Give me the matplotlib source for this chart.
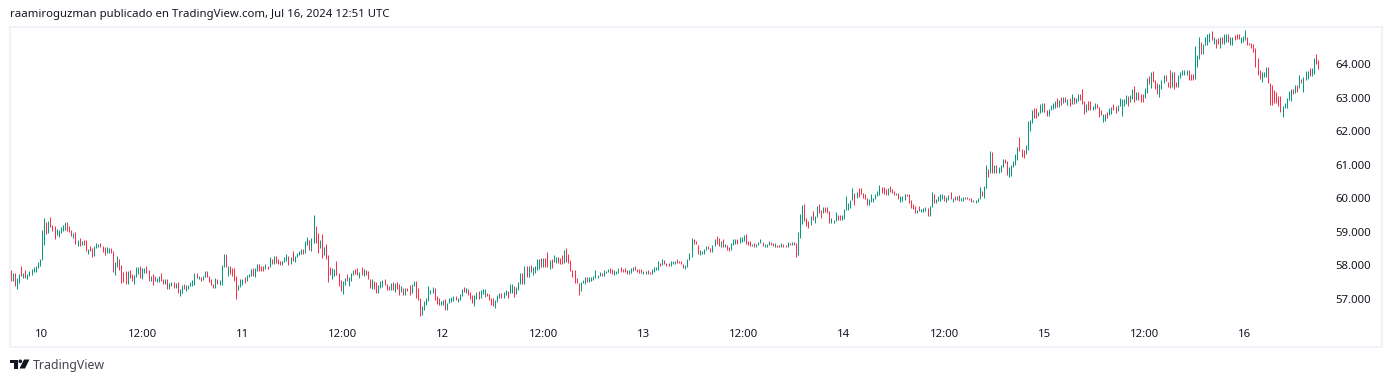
import matplotlib
matplotlib.use("Agg")
import matplotlib.pyplot as plt
from matplotlib.patches import Polygon, Circle

plt.rcParams["font.family"] = ["Noto Sans", "DejaVu Sans"]

# 15 minute bars, first bar is Jul 9 20:15
bar_hours = 0.25
first_hour = -3.75

highs_a = [57.87,57.77,57.77,57.62,57.75,57.99,57.77,57.87,57.75,57.84,
           57.90,57.96,57.98,58.10,58.18,59.04,59.42,59.30,59.33,59.45,
           59.21,59.18,59.09,59.06,59.15,59.21,59.30,59.30,59.18,59.06,
           58.97,59.00,58.76,58.83,58.74,58.76,58.76,58.49,58.58,58.52,
           58.58,58.67,58.63,58.67,58.58,58.55,58.55,58.52,58.52,58.43,
           58.10,58.28,58.19,58.01,57.81,57.84,57.84,57.87,57.75,57.72,
           57.96,57.96,57.99,57.93,57.93,57.99,57.87,57.69,57.75,57.69,
           57.63,57.69,57.78,57.60,57.60,57.60,57.48,57.51,57.51,57.48,
           57.51,57.30,57.42,57.45,57.42,57.42,57.51,57.57,57.78,57.78,
           57.69,57.66,57.69,57.84,57.84,57.69,57.60,57.45,57.63,57.60,
           57.57,58.01,58.34,58.34,57.99,57.99,57.93,57.93,57.69,57.42,
           57.60,57.60,57.66,57.72,57.75,57.90,57.93,57.93,58.05,58.05,
           57.99,57.99,58.05,57.99,58.25,58.19,58.28,58.28,58.19,58.13,
           58.13,58.25,58.34,58.28,58.25,58.43,58.28,58.37,58.43]
lows_a = [57.55,57.55,57.39,57.30,57.49,57.67,57.63,57.63,57.61,57.67,
          57.71,57.81,57.81,57.91,57.99,58.16,58.61,58.94,58.96,59.14,
          59.03,58.79,58.91,58.85,58.97,59.01,59.06,59.03,59.00,58.88,
          58.82,58.64,58.58,58.58,58.60,58.61,58.43,58.34,58.43,58.25,
          58.28,58.52,58.54,58.55,58.39,58.31,58.38,58.37,58.37,57.81,
          57.72,57.96,57.87,57.48,57.51,57.45,57.45,57.63,57.54,57.45,
          57.66,57.75,57.63,57.60,57.78,57.78,57.54,57.54,57.42,57.54,
          57.51,57.51,57.54,57.45,57.45,57.30,57.30,57.39,57.33,57.33,
          57.18,57.09,57.18,57.30,57.24,57.30,57.39,57.39,57.42,57.63,
          57.60,57.54,57.57,57.66,57.66,57.51,57.42,57.33,57.33,57.45,
          57.42,57.42,57.96,57.96,57.69,57.75,57.69,57.54,57.00,57.27,
          57.36,57.42,57.48,57.54,57.66,57.69,57.69,57.66,57.84,57.84,
          57.84,57.84,57.90,57.90,57.96,58.05,58.05,58.07,58.05,58.01,
          58.01,58.10,58.13,58.01,58.05,58.13,58.10,58.25,58.31]
dirs_a = ("DUDUUDUDUU" "UUUUUUUDUD" "DDUUUUUDDD" "UDUDUDDUDD" "UUUDDDUUDD"
          "UUDDDDUDDU" "UUDUUDDUDD" "UUDDUDUUDU" "DUUDUUUUUD" "UDUUDDDDUD"
          "UUUDUDDDDU" "UUDUUUDUUD" "DDUDUDUDDD" "UUUDUDUUU")

highs_b = [58.49,58.49,58.73,58.85,58.76,58.82,59.50,59.17,58.96,58.76,
           58.93,58.55,58.64,58.31,57.95,57.92,57.89,58.13,57.77,57.56,
           57.53,57.62,57.74,57.65,57.77,57.86,57.89,57.92,57.80,57.95,
           57.89,57.86,57.83,57.59,57.59,57.53,57.50,57.42,57.53,57.56,
           57.59,57.45,57.39,57.48,57.50,57.48,57.50,57.45,57.39,57.33,
           57.33,57.33,57.42,57.45,57.53,57.53,57.33,57.03,56.79,56.94,
           57.03,57.39,57.27,57.36,57.33,57.09,57.03,56.94,56.97,57.00,
           56.88,57.03,57.06,57.09,57.09,57.03,57.15,57.30,57.36,57.33,
           57.30,57.21,57.12,57.12,57.21,57.24,57.27,57.30,57.30,57.18,
           57.15,57.03,57.03,56.97,57.12,57.18,57.18,57.21,57.27,57.24,
           57.45,57.45,57.39,57.36,57.50,57.77,57.77,57.98,57.98,57.98,
           58.01,57.95,57.98,58.19,58.19,58.22,58.22,58.22,58.40,58.16,
           58.19,58.31,58.25,58.25,58.22,58.31,58.46,58.52,58.34,58.16,
           57.86,57.86,57.62,57.48,57.50,57.56,57.65,57.65,57.65,57.65,
           57.68,57.86,57.71,57.80]
lows_b = [58.34,58.34,58.37,58.61,58.46,58.43,58.66,58.67,58.37,58.52,
          58.22,58.31,58.19,57.50,57.71,57.59,57.68,57.71,57.39,57.24,
          57.15,57.42,57.53,57.39,57.53,57.71,57.74,57.71,57.62,57.71,
          57.68,57.71,57.59,57.33,57.30,57.30,57.18,57.18,57.33,57.36,
          57.42,57.27,57.27,57.27,57.27,57.21,57.30,57.12,57.21,57.12,
          57.12,57.24,57.12,57.18,57.39,57.03,56.97,56.49,56.52,56.67,
          56.82,56.94,57.15,57.18,56.97,56.85,56.82,56.82,56.82,56.67,
          56.67,56.88,56.91,56.94,56.97,56.91,56.97,57.09,57.21,57.18,
          57.12,57.00,56.88,56.79,57.00,57.00,57.03,57.15,57.06,57.09,
          56.97,56.82,56.79,56.73,56.91,57.03,57.03,57.03,57.12,57.03,
          57.18,57.18,57.06,57.15,57.27,57.45,57.45,57.45,57.65,57.65,
          57.80,57.71,57.77,57.86,57.89,57.95,57.95,57.95,57.95,57.89,
          57.92,58.10,58.07,58.07,58.04,58.04,58.07,58.10,58.07,57.83,
          57.65,57.48,57.48,57.12,57.24,57.48,57.45,57.50,57.50,57.53,
          57.56,57.62,57.62,57.68]
dirs_b = ("UDUUDUUDDU" "DUDDDUUDDD" "UUDUUUDDUD" "UDDDUDDUUU" "DDDUDUDDUD"
          "UDDUUDDDUU" "UUUUDDDUUD" "UUUUDUUUDU" "DDDUUDUUUD" "DDDUUUDUUD"
          "UUDUUUDUDU" "DUUUUDUDDU" "DUUDDDUDDD" "DDDDUUUDUU" "UUUU")

highs_c = [57.77,57.86,57.83,57.89,57.92,57.89,57.86,57.83,57.92,57.95,
           57.89,57.92,57.86,57.86,57.92,57.95,57.98,57.89,57.89,57.89,
           57.83,57.83,57.86,57.80,57.89,57.95,57.95,58.13,58.07,58.19,
           58.16,58.07,58.07,58.13,58.13,58.13,58.19,58.13,58.13,58.04,
           58.01,58.19,58.37,58.81,58.78,58.72,58.61,58.46,58.43,58.49,
           58.58,58.58,58.52,58.61,58.78,58.87,58.81,58.72,58.78,58.64,
           58.61,58.55,58.67,58.78,58.78,58.78,58.84,58.84,58.90,58.93,
           58.72,58.72,58.64,58.67,58.64,58.69,58.78,58.69,58.64,58.64,
           58.72,58.69,58.67,58.67,58.61,58.61,58.67,58.64,58.61,58.69,
           58.67,58.69,58.69,58.67,59.00,59.53,59.80,59.83,59.41,59.32,
           59.47,59.62,59.47,59.77,59.83,59.65,59.74,59.74,59.74,59.62,
           59.41,59.35,59.59,59.50,59.50,59.50,59.68,60.07,59.86,59.95,
           60.30,60.15,60.18,60.30,60.30,60.15,60.12,60.01,59.98,60.12,
           60.01,60.12,60.21,60.39,60.33,60.33,60.27,60.30,60.36,60.27,
           60.21,60.15,60.15]
lows_c = [57.68,57.68,57.77,57.80,57.77,57.74,57.71,57.74,57.77,57.80,
          57.80,57.80,57.74,57.74,57.77,57.83,57.86,57.80,57.77,57.77,
          57.74,57.74,57.74,57.74,57.74,57.80,57.86,57.86,57.98,58.01,
          58.04,57.98,57.98,57.98,58.04,58.04,58.07,58.07,58.04,57.92,
          57.89,57.95,58.16,58.25,58.64,58.64,58.34,58.31,58.34,58.34,
          58.46,58.49,58.40,58.40,58.58,58.64,58.58,58.55,58.55,58.55,
          58.46,58.43,58.46,58.61,58.64,58.64,58.67,58.69,58.72,58.64,
          58.61,58.58,58.58,58.55,58.55,58.61,58.67,58.58,58.55,58.55,
          58.61,58.61,58.58,58.55,58.55,58.55,58.55,58.55,58.55,58.55,
          58.61,58.61,58.61,58.25,58.31,58.81,59.23,59.32,59.17,59.11,
          59.20,59.35,59.26,59.44,59.56,59.41,59.56,59.59,59.56,59.26,
          59.26,59.26,59.32,59.35,59.35,59.35,59.38,59.65,59.65,59.71,
          59.95,59.80,60.01,60.04,60.12,60.01,59.98,59.80,59.80,59.89,
          59.89,59.98,60.07,60.09,60.15,60.12,60.09,60.09,60.18,60.15,
          60.09,60.09,59.98]
dirs_c = ("DUUUDDUUUD" "DDDUUUDDDD" "UUDDUUUUDU" "DDDUUUDDDD" "UUUUDDDUUU"
          "UDDUUDDUDU" "DDUUUDUUUD" "DDUDUUUDUU" "UDDUDDUDDU" "DUDDUUUDDD"
          "UDUUDDUDDD" "UUUDDUUUUU" "UDUDDDDDUU" "UUUUDDDUDD" "DUD")

highs_d = [60.07,60.07,60.13,60.13,60.13,59.95,59.83,59.77,59.65,59.77,
           59.68,59.71,59.74,59.71,59.77,60.19,60.13,59.98,60.07,60.13,
           60.13,60.10,60.04,60.10,60.19,60.01,60.07,60.07,60.10,60.01,
           60.04,60.04,60.04,60.01,60.01,59.95,59.95,60.01,60.33,60.22,
           60.36,60.99,60.87,61.41,61.38,60.99,60.99,60.93,60.99,61.17,
           61.17,61.11,60.93,60.99,61.11,61.32,61.53,61.82,61.47,61.44,
           61.59,62.30,62.33,62.63,62.69,62.69,62.57,62.81,62.84,62.84,
           62.63,62.66,62.78,62.84,62.90,62.99,62.93,63.02,63.02,63.02,
           62.96,62.99,63.11,63.02,62.99,63.11,63.11,63.25,62.90,62.81,
           62.90,62.90,62.75,62.84,62.81,62.72,62.63,62.51,62.51,62.57,
           62.69,62.72,62.81,62.75,62.78,62.99,62.96,62.96,63.08,63.05,
           63.08,63.25,63.34,63.16,63.16,63.11,63.11,63.28,63.58,63.64,
           63.76,63.79,63.52,63.43,63.40,63.52,63.67,63.67,63.46,63.82,
           63.76,63.76,63.46,63.67,63.76,63.82,63.82]
lows_d = [59.89,59.92,59.95,60.07,59.86,59.71,59.68,59.56,59.56,59.62,
          59.59,59.59,59.62,59.47,59.47,59.74,59.86,59.86,59.92,59.92,
          59.98,59.92,59.89,59.95,59.98,59.89,59.95,59.95,59.92,59.92,
          59.92,59.98,59.98,59.95,59.89,59.89,59.86,59.89,59.98,60.07,
          60.01,60.30,60.63,60.75,60.75,60.75,60.75,60.75,60.78,60.93,
          61.05,60.69,60.63,60.66,60.93,60.99,61.14,61.41,61.23,61.20,
          61.32,61.44,62.00,62.24,62.39,62.39,62.45,62.54,62.57,62.57,
          62.45,62.45,62.63,62.66,62.69,62.72,62.72,62.78,62.84,62.87,
          62.78,62.75,62.81,62.81,62.84,62.90,62.93,62.81,62.51,62.57,
          62.63,62.63,62.63,62.66,62.69,62.42,62.48,62.27,62.30,62.39,
          62.48,62.51,62.63,62.54,62.60,62.75,62.45,62.75,62.81,62.75,
          62.87,62.96,62.87,62.93,62.93,62.87,62.87,62.99,63.13,63.40,
          63.28,63.46,63.25,63.11,63.02,63.25,63.43,63.49,63.31,63.28,
          63.31,63.25,63.31,63.31,63.58,63.67,63.67]
dirs_d = ("UUUDDDDDUD" "UUUDUUDUUU" "UDUUDUDUDU" "UUDDDUUUUD" "UUDUDUDUUU"
          "DDUUUUUDDD" "UUUUDDUUUD" "DUUUUDUDUD" "UDUDUUDDDU" "DDUUDDDUUD"
          "UUDDUUUUUD" "UUDUDDDUUD" "UDDDUUUDDD" "UDDUUUU")

highs_e = [63.82,63.82,63.70,63.70,64.52,64.27,64.79,64.66,64.59,64.79,
           64.89,64.93,64.98,64.79,64.73,64.76,64.79,64.79,64.89,64.89,
           64.89,64.79,64.81,64.86,64.89,64.89,64.79,64.84,65.01,64.81,
           64.63,64.61,64.59,64.48,64.19,63.82,63.77,63.77,63.90,63.90,
           63.42,63.37,63.22,63.17,63.05,63.05,62.75,62.85,62.98,
           63.20,63.24,63.25,63.37,63.37,63.67,63.54,63.62,63.79,63.79,
           63.87,63.87,64.19,64.30,64.12]
lows_e = [63.66,63.52,63.52,63.52,63.54,63.92,64.15,64.29,64.29,64.57,
          64.57,64.66,64.71,64.59,64.48,64.59,64.48,64.59,64.59,64.66,
          64.66,64.57,64.55,64.71,64.74,64.74,64.63,64.66,64.71,64.57,
          64.55,64.47,64.37,63.92,63.67,63.54,63.47,63.60,63.60,63.42,
          62.78,62.78,62.83,62.83,62.75,62.58,62.42,62.68,62.68,
          62.93,62.91,63.10,63.13,63.17,63.27,63.42,63.17,63.52,63.54,
          63.64,63.64,63.70,63.99,63.85]
dirs_e = ("UDDDUUUDUU" "UUDUDDUDUU" "DUUDDDUUUD" "DDDDDDUUUD" "DDDDDDUUU"
          "UUDUDUDUUU" "DUUDD")

highs = highs_a + highs_b + highs_c + highs_d + highs_e
lows = lows_a + lows_b + lows_c + lows_d + lows_e
dirs = dirs_a + dirs_b + dirs_c + dirs_d + dirs_e
if not (len(highs) == len(lows) == len(dirs)):
    raise ValueError(f"{len(highs)} {len(lows)} {len(dirs)}")

price_ticks = [57, 58, 59, 60, 61, 62, 63, 64]
time_ticks = [0, 12, 24, 36, 48, 60, 72, 84, 96, 108, 120, 132, 144]
time_labels = ["10", "12:00", "11", "12:00", "12", "12:00", "13", "12:00",
               "14", "12:00", "15", "12:00", "16"]

W, H = 1392, 382
fig = plt.figure(figsize=(W / 100, H / 100), dpi=100, facecolor="white")
ax = fig.add_axes([10 / W, (H - 347) / H, 1372 / W, 320 / H])

times = [first_hour + i * bar_hours for i in range(len(highs))]
up_t = [t for t, d in zip(times, dirs) if d == "U"]
up_h = [v for v, d in zip(highs, dirs) if d == "U"]
up_l = [v for v, d in zip(lows, dirs) if d == "U"]
dn_t = [t for t, d in zip(times, dirs) if d == "D"]
dn_h = [v for v, d in zip(highs, dirs) if d == "D"]
dn_l = [v for v, d in zip(lows, dirs) if d == "D"]
ax.vlines(up_t, up_l, up_h, color="#089981", lw=0.72)
ax.vlines(dn_t, dn_l, dn_h, color="#f92f48", lw=0.72)

ax.set_xlim(-3.83, 160.4)
ax.set_ylim(55.57, 65.10)
for side in ax.spines.values():
    side.set_color("#f0f3fa")
    side.set_linewidth(1.5)

ax.yaxis.tick_right()
ax.set_yticks(price_ticks)
ax.set_yticklabels([f"{p}.000" for p in price_ticks])
ax.tick_params(axis="y", length=0, pad=-33.5, labelsize=8.2, labelcolor="#131722")
ax.set_xticks(time_ticks)
ax.set_xticklabels(time_labels)
ax.tick_params(axis="x", length=0, pad=-13, labelsize=8.2, labelcolor="#131722")

# header, footer and logo are in pixel coords
over = fig.add_axes([0, 0, 1, 1], facecolor="none")
over.set_xlim(0, W)
over.set_ylim(H, 0)
over.axis("off")
over.text(10, 14.5, "raamiroguzman publicado en TradingView.com, Jul 16, 2024 12:51 UTC",
          fontsize=8.2, color="#131722", va="center", ha="left")
over.text(33, 365, "TradingView", fontsize=8.9, color="#434651", va="center", ha="left")
over.add_patch(Polygon([(10, 359.5), (18, 359.5), (18, 368.5), (14, 368.5), (14, 363), (10, 363)],
                       color="#131722", lw=0))
over.add_patch(Circle((20.3, 361.3), 1.8, color="#131722", lw=0))
over.add_patch(Polygon([(24, 359.5), (29.5, 359.5), (25, 368.5), (19.5, 368.5)], color="#131722", lw=0))

fig.savefig("out.png", dpi=100)
